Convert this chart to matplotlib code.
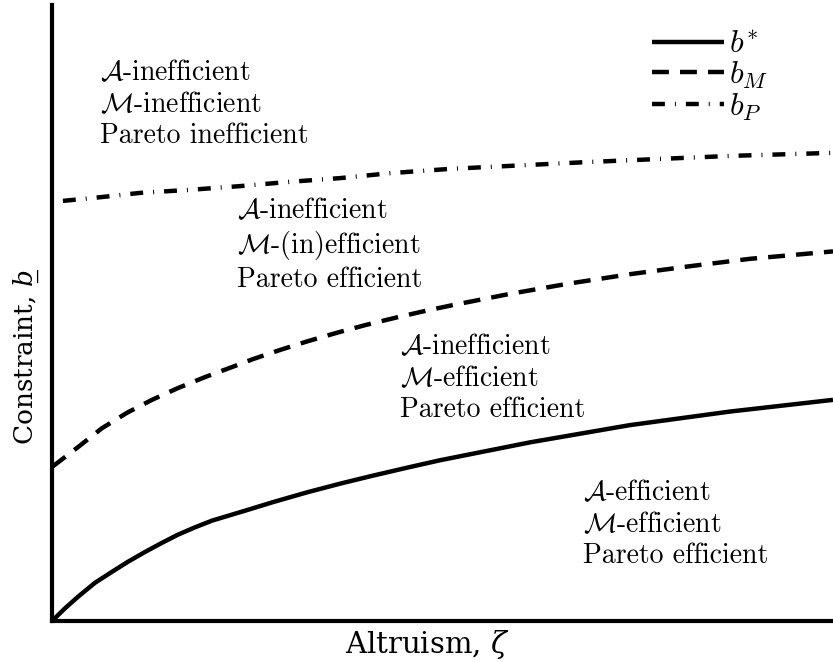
import matplotlib
matplotlib.use("Agg")
import matplotlib.pyplot as plt
import numpy as np

plt.rcParams['font.family'] = 'cmr10'
plt.rcParams['mathtext.fontset'] = 'cm'
plt.rcParams['axes.formatter.use_mathtext'] = True

# curves (x = altruism, y = constraint, both 0..1)
x_star = [0.0, 0.017, 0.033, 0.055, 0.077, 0.097, 0.119, 0.141, 0.161, 0.183, 0.205,
          0.247, 0.283, 0.327, 0.369, 0.411, 0.455, 0.497, 0.612, 0.740, 0.868, 1.0]
y_star = [0.0, 0.021, 0.039, 0.062, 0.080, 0.096, 0.112, 0.127, 0.140, 0.152, 0.163,
          0.179, 0.193, 0.209, 0.223, 0.236, 0.249, 0.261, 0.290, 0.318, 0.340, 0.359]

x_m = [0.0, 0.033, 0.064, 0.096, 0.128, 0.161, 0.196, 0.230, 0.257, 0.292, 0.327,
       0.365, 0.403, 0.442, 0.480, 0.510, 0.586, 0.663, 0.740, 0.817, 0.894, 1.0]
y_m = [0.250, 0.282, 0.313, 0.338, 0.359, 0.378, 0.396, 0.412, 0.425, 0.440, 0.454,
       0.468, 0.481, 0.493, 0.504, 0.512, 0.531, 0.548, 0.563, 0.576, 0.588, 0.600]

x_p = [0.014, 0.062, 0.113, 0.177, 0.241, 0.305, 0.369, 0.433, 0.510, 0.685, 0.868, 1.0]
y_p = [0.682, 0.688, 0.695, 0.700, 0.706, 0.713, 0.719, 0.727, 0.734, 0.745, 0.755, 0.760]

region_text = [
    r"$\mathcal{A}$-inefficient" + "\n" + r"$\mathcal{M}$-inefficient" + "\nPareto inefficient",
    r"$\mathcal{A}$-inefficient" + "\n" + r"$\mathcal{M}$-(in)efficient" + "\nPareto efficient",
    r"$\mathcal{A}$-inefficient" + "\n" + r"$\mathcal{M}$-efficient" + "\nPareto efficient",
    r"$\mathcal{A}$-efficient" + "\n" + r"$\mathcal{M}$-efficient" + "\nPareto efficient",
]
region_x = [0.0615, 0.237, 0.446, 0.680]
region_y = [0.839, 0.610, 0.394, 0.157]

fig = plt.figure(figsize=(8.33, 6.62), dpi=100)
ax = fig.add_axes([52 / 833, 41 / 662, 781 / 833, 616 / 662])

lw = 3.2
ax.plot(x_star, y_star, color='black', lw=lw, label=r'$b^{*}$', solid_capstyle='butt')
ax.plot(x_m, y_m, color='black', lw=lw, dashes=(3.8, 2.5), label=r'$b_{M}$')
ax.plot(x_p, y_p, color='black', lw=lw, dashes=(2.9, 2.25, 0.22, 2.25), label=r'$b_{P}$')

for t, tx, ty in zip(region_text, region_x, region_y):
    ax.text(tx, ty, t, fontsize=20, ha='left', va='center', linespacing=1.22)

ax.set_xlim(0, 1)
ax.set_ylim(0, 1)
ax.set_xticks([])
ax.set_yticks([])
for s in ['top', 'right']:
    ax.spines[s].set_visible(False)
for s in ['left', 'bottom']:
    ax.spines[s].set_linewidth(3)

ax.set_xlabel(r"Altruism, $\zeta$", fontsize=21, family='DejaVu Serif',
              math_fontfamily='dejavuserif', labelpad=5)
ax.set_ylabel("Constraint, $b$\u0332", fontsize=19, family='DejaVu Serif',
              math_fontfamily='dejavuserif', labelpad=8)
ax.xaxis.label.set_x(0.48)
ax.yaxis.label.set_y(0.43)

ax.legend(loc='upper right', bbox_to_anchor=(0.945, 0.995), frameon=False, fontsize=23,
          handlelength=2.25, handletextpad=0.15, labelspacing=0.02, borderpad=0.2)

fig.savefig("out.png", dpi=100)
